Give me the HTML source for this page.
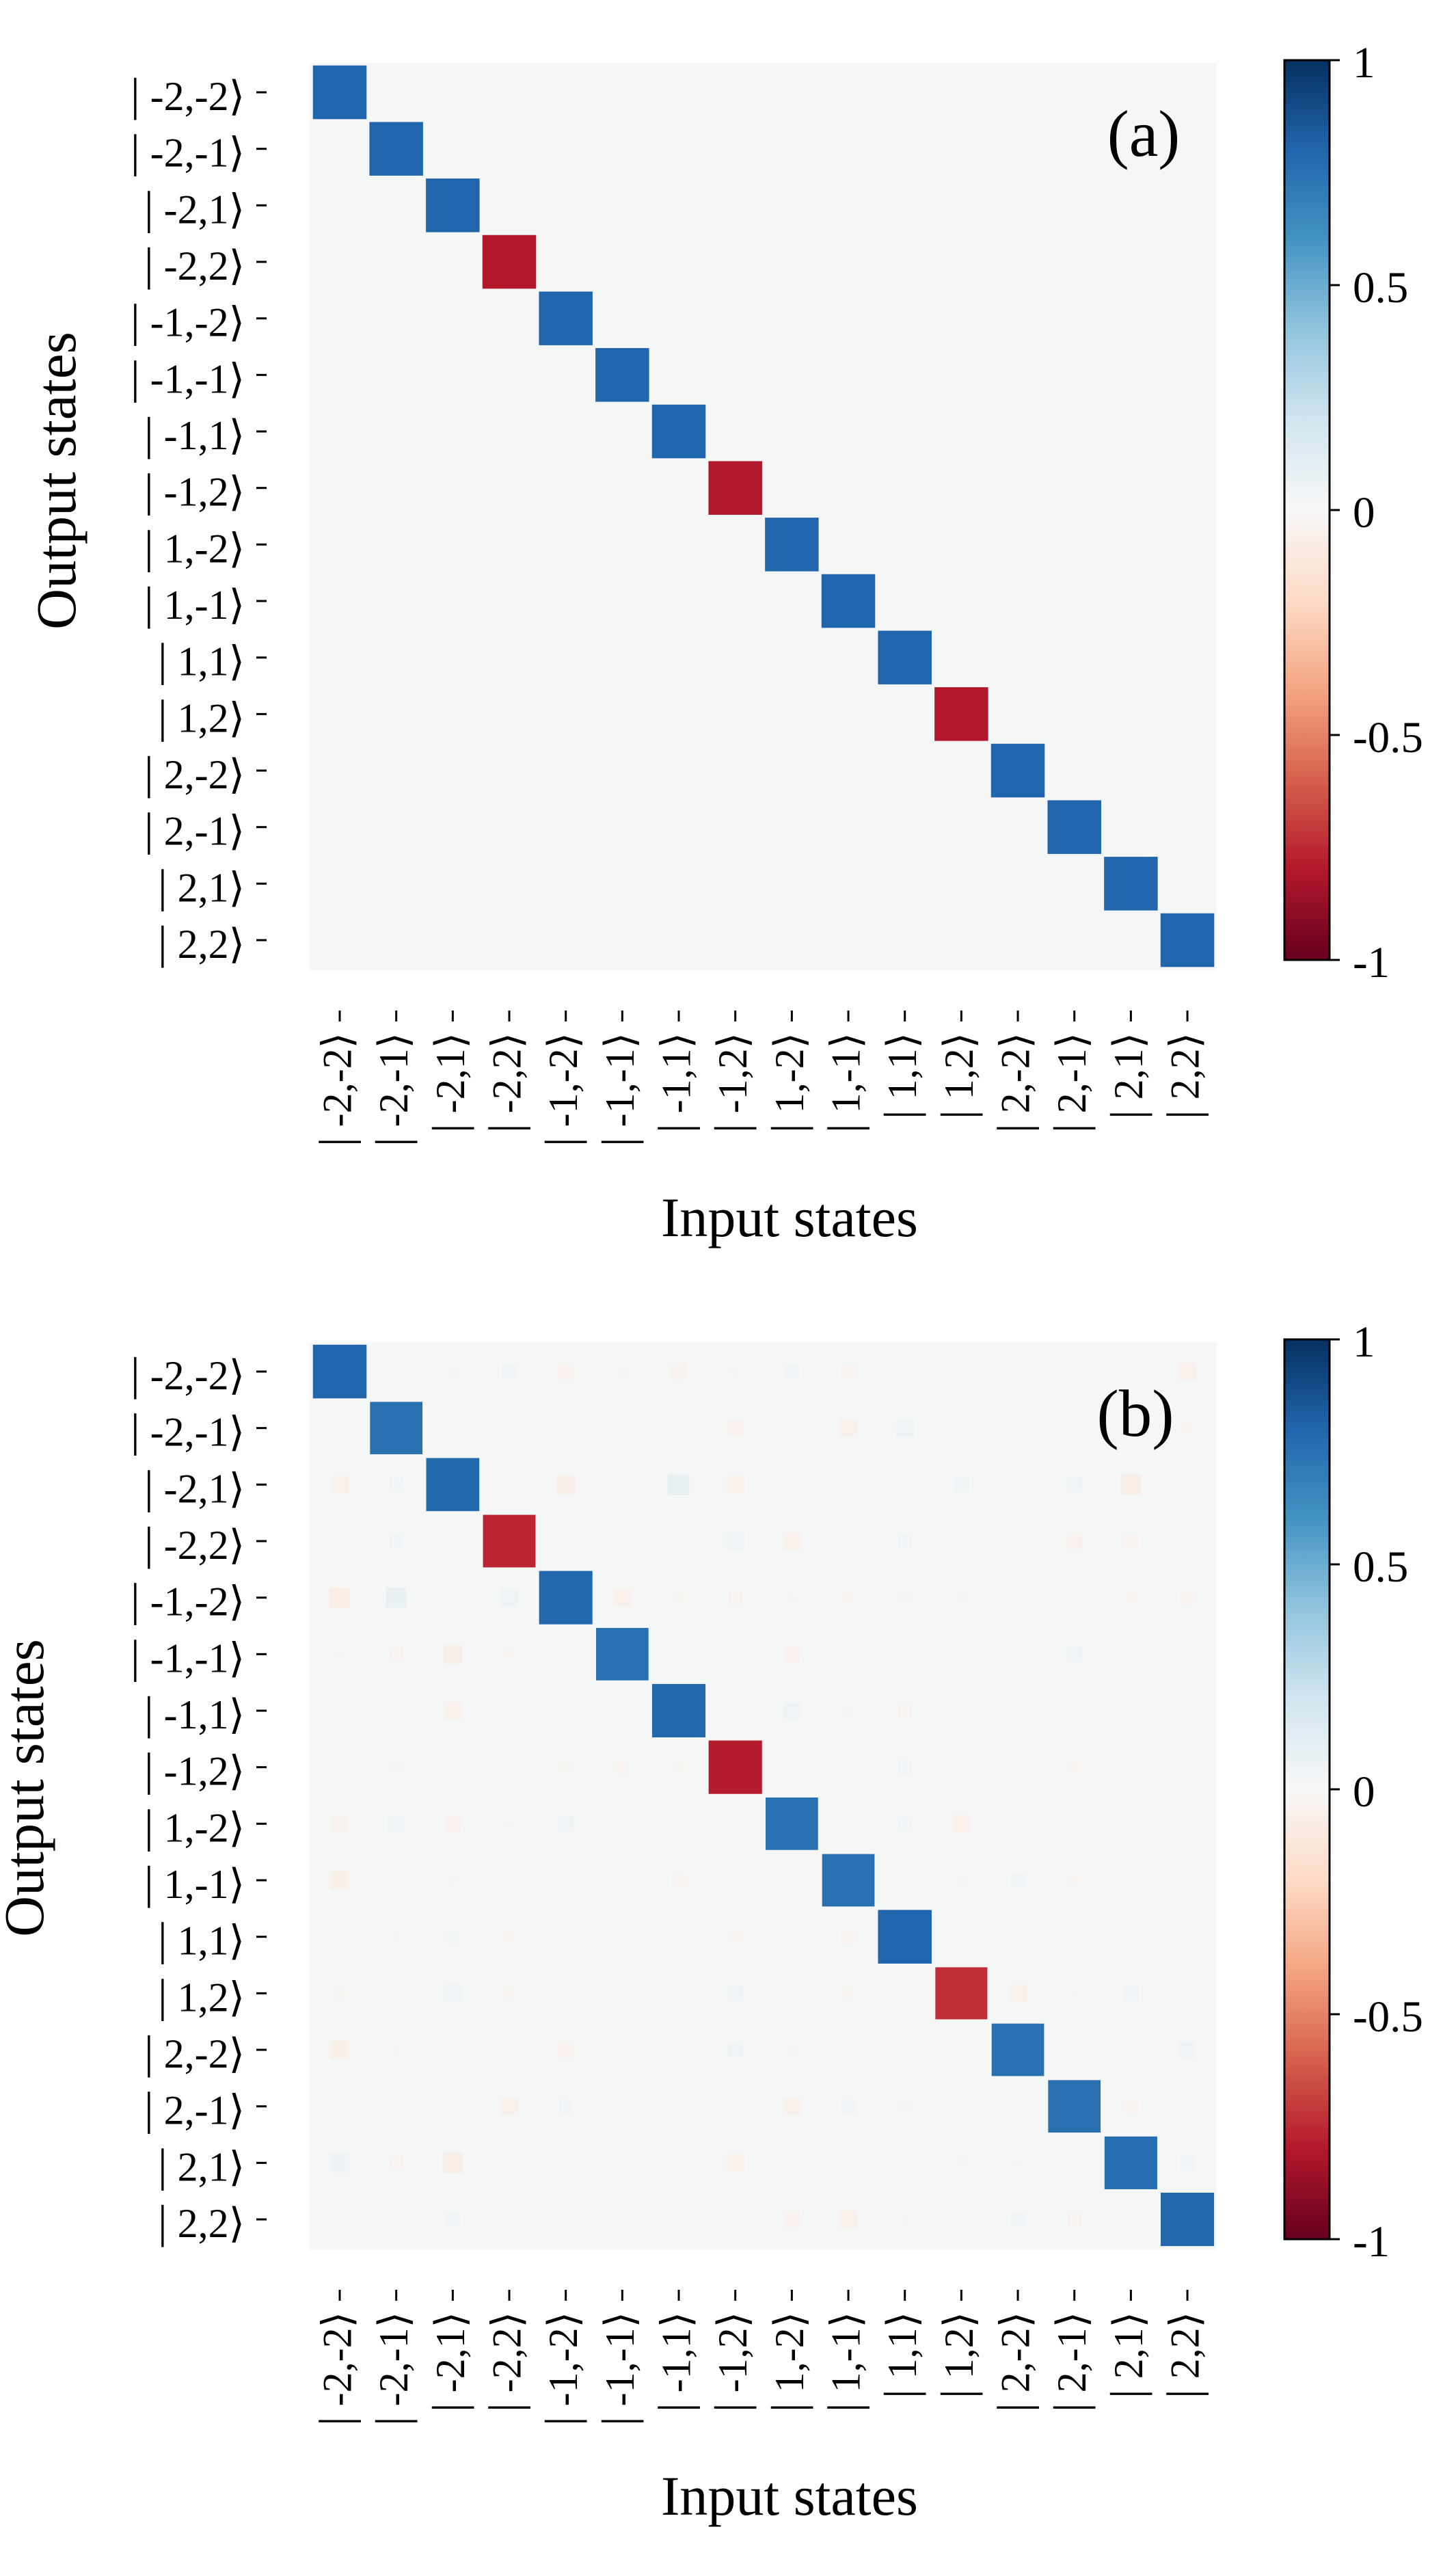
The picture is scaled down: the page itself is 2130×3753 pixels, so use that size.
<!DOCTYPE html>
<html lang="en">
<head>
<meta charset="utf-8">
<title>Output versus input state matrices</title>
<style>
html,body{margin:0;padding:0;background:#fff;width:2130px;height:3753px;overflow:hidden}
svg{display:block}
text{font-family:"Liberation Serif","DejaVu Serif","DejaVu Sans",serif;fill:#000}
</style>
</head>
<body>
<svg id="figure" xmlns="http://www.w3.org/2000/svg" width="2130" height="3753" viewBox="0 0 2130 3753">
  <rect x="0" y="0" width="2130" height="3753" fill="#ffffff"/>
  <g id="panel-a">
    <text x="1673" y="228" font-size="96" text-anchor="middle">(a)</text>
  </g>
  <g id="panel-b"></g>
  <text transform="translate(110,703) rotate(-90)" font-size="83" text-anchor="middle">Output states</text>
  <text x="1155" y="1808" font-size="82" text-anchor="middle">Input states</text>
  <text transform="translate(63,2615) rotate(-90)" font-size="83" text-anchor="middle">Output states</text>
  <text x="1155" y="3678" font-size="82" text-anchor="middle">Input states</text>
  <text x="1661" y="2100" font-size="97" text-anchor="middle">(b)</text>
</svg>
<script>
const stateLabels = ['-2,-2','-2,-1','-2,1','-2,2','-1,-2','-1,-1','-1,1','-1,2','1,-2','1,-1','1,1','1,2','2,-2','2,-1','2,1','2,2'];
const panelADiagonal = [0.8,0.8,0.8,-0.8,0.8,0.8,0.8,-0.8,0.8,0.8,0.8,-0.8,0.8,0.8,0.8,0.8];
const panelBRows = [
  [0.8,0.002,0.02,0.03,-0.04,-0.02,-0.04,0.015,0.03,-0.03,0.01,0,-0.01,-0.01,0,-0.05],
  [0.005,0.755,0,0.005,0.01,0,-0.005,-0.04,0,-0.05,0.05,0.003,0.002,0.003,0,-0.02],
  [-0.05,0.03,0.78,-0.005,-0.06,0,0.08,-0.05,0.005,0.008,0,0.035,0,0.04,-0.07,0],
  [-0.01,0.03,0,-0.76,0.003,-0.005,0,0.05,-0.05,0.002,0.03,0,-0.005,-0.04,-0.03,0.012],
  [-0.07,0.07,-0.01,0.05,0.79,-0.05,-0.025,-0.03,-0.012,-0.025,0.02,-0.025,0,-0.003,-0.02,-0.03],
  [-0.012,-0.03,-0.06,-0.02,0.005,0.755,0.008,-0.002,-0.04,0.01,0.003,0.002,0,0.04,0,0.008],
  [0.002,0.005,-0.05,0.01,0.002,0,0.79,0,0.045,0.02,-0.03,-0.005,-0.004,0.008,0,-0.005],
  [0,0.02,0,0.012,-0.02,-0.03,-0.025,-0.79,0.005,0.003,0.03,0.008,0.005,-0.02,0,0],
  [-0.04,0.045,-0.04,-0.012,0.04,0,0,0.006,0.755,0.008,0.03,-0.05,0.003,-0.008,0.005,0],
  [-0.06,0,-0.012,0.012,0.006,0.002,-0.03,0,0.005,0.755,-0.005,-0.02,0.03,-0.02,0.003,0.002],
  [0.008,0.015,0.025,-0.025,-0.01,0,0,-0.02,0.002,-0.03,0.8,0.002,0.001,0.002,0,0],
  [-0.025,0.005,0.05,-0.025,0.008,0,0.004,0.04,0.005,-0.025,0.004,-0.74,-0.05,-0.015,0.035,0],
  [-0.06,-0.012,0.001,-0.008,-0.04,0.001,0,0.035,-0.015,0.001,0.002,0.002,0.755,0.002,0.004,0.04],
  [-0.01,0,0.002,-0.05,0.03,0.005,-0.008,0.004,-0.05,0.03,0.02,0,0.004,0.755,-0.03,0],
  [0.06,-0.03,-0.07,0.001,-0.005,-0.008,0,-0.05,-0.005,0.002,0.001,-0.02,-0.015,0,0.765,0.03],
  [-0.01,0,0.03,0,0,0.005,0.012,0,-0.04,-0.05,-0.012,-0.006,0.03,-0.03,0.004,0.79]
];
const colorbarTickValues = [1,0.5,0,-0.5,-1];
const colorbarTickLabels = ['1','0.5','0','-0.5','-1'];
const colormapValues = [1,0.8,0.6,0.4,0.2,0,-0.2,-0.4,-0.6,-0.8,-1];
const colormapColors = ['#053061','#2166ac','#4393c3','#92c5de','#d1e5f0','#f7f7f7','#fddbc7','#f4a582','#d6604d','#b2182b','#67001f'];

const SVG_NS = 'http://www.w3.org/2000/svg';
const figure = document.getElementById('figure');

function svgEl(tag, attrs, parent) {
  const el = document.createElementNS(SVG_NS, tag);
  for (const k in attrs) el.setAttribute(k, attrs[k]);
  parent.appendChild(el);
  return el;
}
function hexToRgb(h) {
  return [parseInt(h.slice(1,3),16), parseInt(h.slice(3,5),16), parseInt(h.slice(5,7),16)];
}
function colorScale(v) {
  const c = Math.max(-1, Math.min(1, v));
  for (let i = 0; i < colormapValues.length - 1; i++) {
    const hi = colormapValues[i], lo = colormapValues[i + 1];
    if (c <= hi && c >= lo) {
      const t = (hi - c) / (hi - lo);
      const a = hexToRgb(colormapColors[i]), b = hexToRgb(colormapColors[i + 1]);
      return 'rgb(' + a.map((x, k) => Math.round(x + (b[k] - x) * t)).join(',') + ')';
    }
  }
  return colormapColors[5];
}
function xScale(i) { return 497 + 82.67 * i; }
function yScale(i, panelTop) { return panelTop + 43 + 82.67 * i; }
function sizeScale(v) { return 78.5 * Math.pow(Math.abs(v) / 0.8, 0.4); }
function colorbarY(v, barTop) { return barTop + (1 - v) / 2 * 1316; }
function fillStateLabel(textEl, label) {
  const bar = svgEl('tspan', {'font-size': 68}, textEl);
  bar.textContent = '|';
  const rest = svgEl('tspan', {}, textEl);
  rest.textContent = ' ' + label + '\u27E9';
}

const defs = svgEl('defs', {}, figure);
const gradient = svgEl('linearGradient', {id:'rdbu', x1:0, y1:0, x2:0, y2:1}, defs);
colormapValues.forEach((v, i) => {
  svgEl('stop', {offset: (1 - v) / 2, 'stop-color': colormapColors[i]}, gradient);
});

function drawPanel(groupId, prefix, matrix, panelTop, barTop) {
  const group = document.getElementById(groupId);
  const bg = svgEl('rect', {x:453, y:panelTop, width:1327, height:1327, fill:'#f5f7f7'}, group);
  
  
  group.insertBefore(bg, group.firstChild);

  matrix.forEach((row, r) => {
    row.forEach((v, c) => {
      if (v === 0) return;
      const s = sizeScale(v);
      const cell = svgEl('rect', {
        x: xScale(c) - s / 2,
        y: yScale(r, panelTop) - s / 2,
        width: s,
        height: s,
        fill: colorScale(v)
      }, group);
      
      
    });
  });

  const panelBottom = panelTop + 1327;
  stateLabels.forEach((label, i) => {
    const yc = yScale(i, panelTop);
    const yTick = svgEl('line', {x1:375, x2:390, y1:yc, y2:yc, stroke:'#000', 'stroke-width':3}, group);
    
    
    const yLabel = svgEl('text', {x:358, y:yc + 26, 'font-size':60, 'text-anchor':'end'}, group);
    fillStateLabel(yLabel, label);
    
    

    const xc = xScale(i);
    const xTick = svgEl('line', {x1:xc, x2:xc, y1:panelBottom + 59, y2:panelBottom + 75, stroke:'#000', 'stroke-width':3}, group);
    
    
    const xLabel = svgEl('text', {
      transform: 'translate(' + (xc + 16.5) + ',' + (panelBottom + 91) + ') rotate(-90)',
      'font-size': 60,
      'text-anchor': 'end'
    }, group);
    fillStateLabel(xLabel, label);
    
    
  });

  const bar = svgEl('rect', {
    x: 1879,
    y: colorbarY(1, barTop),
    width: 66,
    height: colorbarY(-1, barTop) - colorbarY(1, barTop),
    fill: 'url(#rdbu)',
    stroke: '#000',
    'stroke-width': 3
  }, group);
  
  

  colorbarTickValues.forEach((v, i) => {
    const y = colorbarY(v, barTop);
    const tick = svgEl('line', {x1:1946, x2:1960, y1:y, y2:y, stroke:'#000', 'stroke-width':3}, group);
    
    
    const lab = svgEl('text', {x:1979, y:y + 25, 'font-size':65}, group);
    lab.textContent = colorbarTickLabels[i];
    
    
  });
}

const panelAMatrix = panelADiagonal.map((d, r) => panelADiagonal.map((_, c) => (r === c ? d : 0)));
drawPanel('panel-a', 'panel-a', panelAMatrix, 92, 88);
drawPanel('panel-b', 'panel-b', panelBRows, 1963, 1959);
</script>
</body>
</html>
